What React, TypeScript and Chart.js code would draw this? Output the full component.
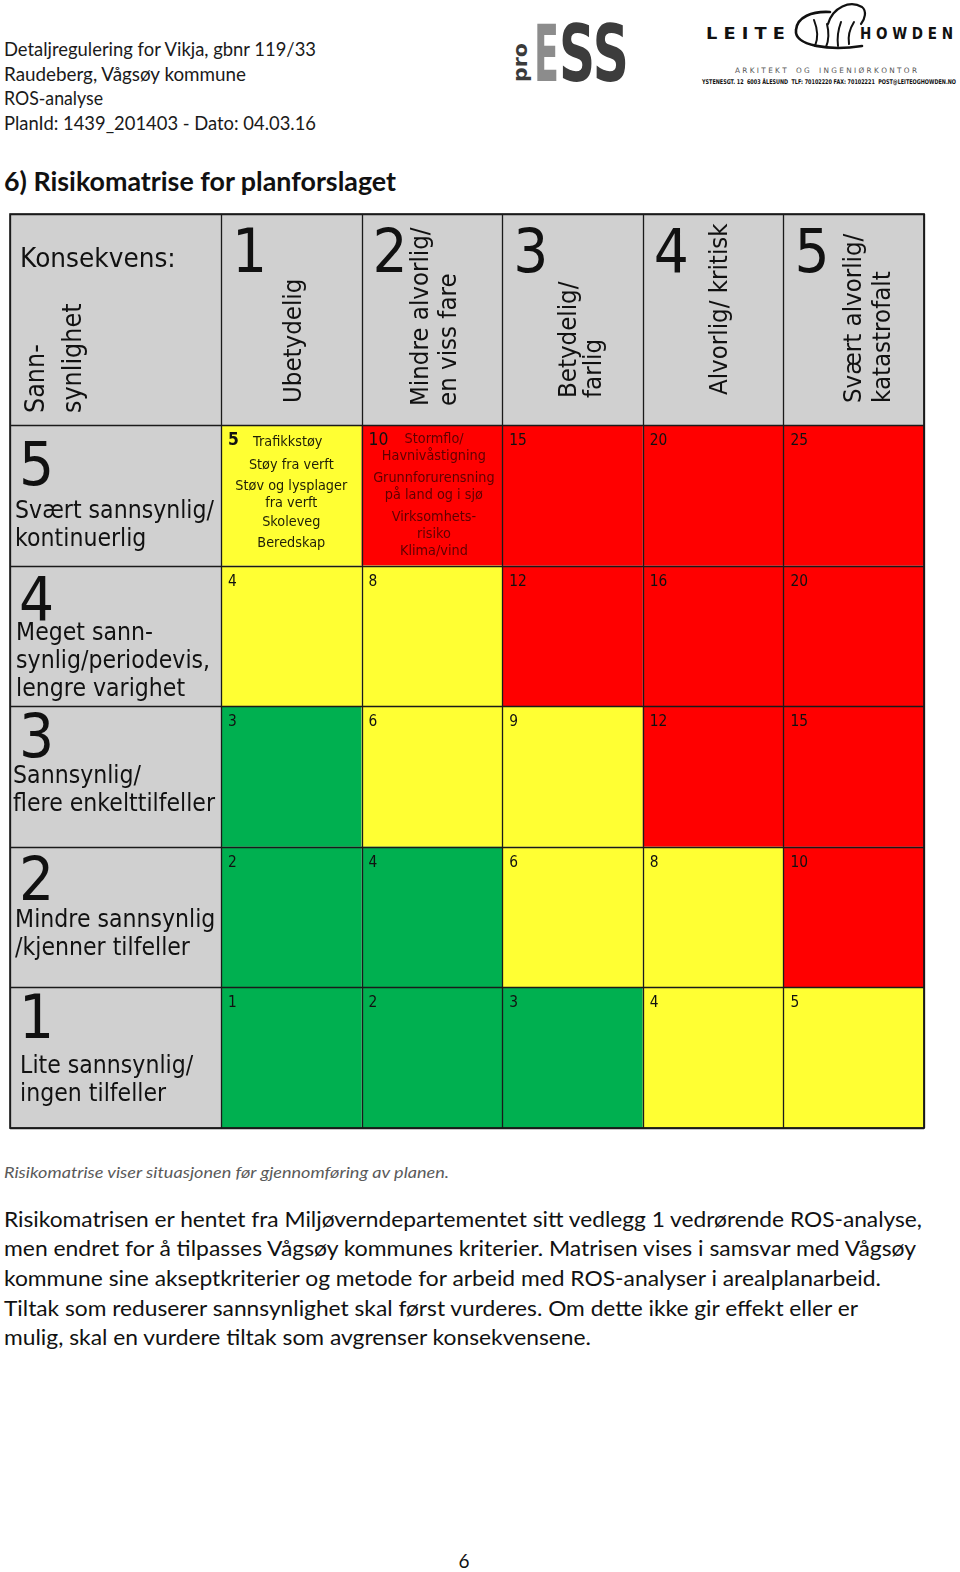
import React, { useEffect, useRef } from "react";
import { Chart, registerables } from "chart.js";

Chart.register(...registerables);

// ---------- data ----------
const consequenceLevels = [1, 2, 3, 4, 5];
const consequenceNames = [
  ["Ubetydelig"],
  ["Mindre alvorlig/", "en viss fare"],
  ["Betydelig/", "farlig"],
  ["Alvorlig/ kritisk"],
  ["Svært alvorlig/", "katastrofalt"],
];
const probabilityLevels = [5, 4, 3, 2, 1];
const probabilityNames = [
  ["Svært sannsynlig/", "kontinuerlig"],
  ["Meget sann-", "synlig/periodevis,", "lengre varighet"],
  ["Sannsynlig/", "flere enkelttilfeller"],
  ["Mindre sannsynlig", "/kjenner tilfeller"],
  ["Lite sannsynlig/", "ingen tilfeller"],
];
// rows follow probabilityLevels (5 -> 1), columns follow consequenceLevels (1 -> 5)
const riskScores = [
  [5, 10, 15, 20, 25],
  [4, 8, 12, 16, 20],
  [3, 6, 9, 12, 15],
  [2, 4, 6, 8, 10],
  [1, 2, 3, 4, 5],
];
const riskClasses = [
  ["mid", "high", "high", "high", "high"],
  ["mid", "mid", "high", "high", "high"],
  ["low", "mid", "mid", "high", "high"],
  ["low", "low", "mid", "mid", "high"],
  ["low", "low", "low", "mid", "mid"],
];
const hazardsScore5 = ["Trafikkstøy", "Støy fra verft", "Støv og lysplager", "fra verft", "Skoleveg", "Beredskap"];
const hazardsScore10 = ["Stormflo/", "Havnivåstigning", "Grunnforurensning", "på land og i sjø", "Virksomhets-", "risiko", "Klima/vind"];
const cornerLabels = ["Konsekvens:", "Sann-", "synlighet"];

const headerLines = [
  "Detaljregulering for Vikja, gbnr 119/33",
  "Raudeberg, Vågsøy kommune",
  "ROS-analyse",
  "PlanId: 1439_201403 -  Dato: 04.03.16",
];
const titleText = "6) Risikomatrise for planforslaget";
const captionText = "Risikomatrise viser situasjonen før gjennomføring av planen.";
const bodyLines = [
  "Risikomatrisen er hentet fra Miljøverndepartementet sitt vedlegg 1 vedrørende ROS-analyse,",
  "men endret for å tilpasses Vågsøy kommunes kriterier. Matrisen vises i samsvar med Vågsøy",
  "kommune sine akseptkriterier og metode for arbeid med ROS-analyser i arealplanarbeid.",
  "Tiltak som reduserer sannsynlighet skal først vurderes. Om dette ikke gir effekt eller er",
  "mulig, skal en vurdere tiltak som avgrenser konsekvensene.",
];
const pageNumber = "6";

// ---------- styles / layout (kept apart from data) ----------
const COLORS: Record<string, string> = { low: "#00B050", mid: "#FFFF33", high: "#FF0000" };
const HEADER_BG = "#D0D0D0";
const LINE = "#1a1a1a";
const FONT = '"DejaVu Sans"';
const SX = 0.92;

function txt(
  ctx: CanvasRenderingContext2D,
  s: string,
  x: number,
  y: number,
  size: number,
  opts: { color?: string; weight?: string; align?: CanvasTextAlign; rotate?: boolean; sx?: number } = {}
) {
  ctx.save();
  ctx.translate(x, y);
  if (opts.rotate) ctx.rotate(-Math.PI / 2);
  ctx.scale(opts.sx ?? SX, 1);
  ctx.font = `${opts.weight || "normal"} ${size}px ${FONT}`;
  ctx.textAlign = opts.align || "left";
  ctx.textBaseline = "alphabetic";
  ctx.fillStyle = opts.color || "#111";
  ctx.fillText(s, 0, 0);
  ctx.restore();
}

const matrixPlugin = {
  id: "riskMatrix",
  beforeDatasetsDraw(chart: any) {
    const ctx: CanvasRenderingContext2D = chart.ctx;
    const xs = chart.scales.x;
    const ys = chart.scales.y;
    const left = xs.getPixelForValue(0.5);
    const right = xs.getPixelForValue(5.5);
    const top = ys.getPixelForValue(5.5);
    const bottom = ys.getPixelForValue(0.5);
    const hx0 = xs.getPixelForValue(-1);
    const hy0 = ys.getPixelForValue(7);

    ctx.save();
    // header backgrounds
    ctx.fillStyle = HEADER_BG;
    ctx.fillRect(hx0, hy0, right - hx0, top - hy0);
    ctx.fillRect(hx0, top, left - hx0, bottom - top);

    // cells from dataset points
    const pts = chart.data.datasets[0].data;
    pts.forEach((pt: any) => {
      const x0 = xs.getPixelForValue(pt.x - 0.5);
      const x1 = xs.getPixelForValue(pt.x + 0.5);
      const y0 = ys.getPixelForValue(pt.y + 0.5);
      const y1 = ys.getPixelForValue(pt.y - 0.5);
      ctx.fillStyle = COLORS[pt.cls];
      ctx.fillRect(x0, y0, x1 - x0, y1 - y0);
    });

    // grid lines
    ctx.strokeStyle = LINE;
    ctx.lineWidth = 1.3;
    ctx.beginPath();
    [-1, 0.5, 1.5, 2.5, 3.5, 4.5, 5.5].forEach((v) => {
      const x = Math.round(xs.getPixelForValue(v)) + 0.5;
      ctx.moveTo(x, hy0);
      ctx.lineTo(x, bottom);
    });
    [7, 5.5, 4.5, 3.5, 2.5, 1.5, 0.5].forEach((v) => {
      const y = Math.round(ys.getPixelForValue(v)) + 0.5;
      ctx.moveTo(hx0, y);
      ctx.lineTo(right, y);
    });
    ctx.stroke();
    ctx.lineWidth = 1.8;
    ctx.strokeRect(hx0, hy0, right - hx0, bottom - hy0);

    // corner
    txt(ctx, cornerLabels[0], hx0 + 10, hy0 + 53, 27);
    txt(ctx, cornerLabels[1], hx0 + 34, top - 12, 26, { rotate: true });
    txt(ctx, cornerLabels[2], hx0 + 71, top - 12, 26, { rotate: true });

    // column headers
    const rotBase = [[80], [66, 94], [74, 99], [84], [78, 107]];
    const rotStart = [22, 19, 27, 30, 22];
    consequenceLevels.forEach((c, i) => {
      const cx0 = xs.getPixelForValue(c - 0.5);
      txt(ctx, String(c), cx0 + 11, hy0 + 58, 60);
      consequenceNames[i].forEach((ln, j) => {
        txt(ctx, ln, cx0 + rotBase[i][j], top - rotStart[i], 25, { rotate: true });
      });
    });

    // row headers
    const numBase = [60, 54, 51, 53, 51];
    const lineBase = [93, 74, 77, 80, 86];
    const lineX = [5, 6, 3, 5, 10];
    probabilityLevels.forEach((p, i) => {
      const ry0 = ys.getPixelForValue(p + 0.5);
      txt(ctx, String(p), hx0 + 9, ry0 + numBase[i], 60);
      probabilityNames[i].forEach((ln, j) => {
        txt(ctx, ln, hx0 + lineX[i], ry0 + lineBase[i] + j * 28, 24);
      });
    });

    // cell scores
    pts.forEach((pt: any) => {
      const x0 = xs.getPixelForValue(pt.x - 0.5);
      const y0 = ys.getPixelForValue(pt.y + 0.5);
      const hasHazards = pt.y === 5 && (pt.x === 1 || pt.x === 2);
      txt(ctx, String(pt.score), x0 + 7, y0 + 20, hasHazards ? 17 : 15, {
        weight: pt.y === 5 && pt.x === 1 ? "bold" : "normal",
      });
    });

    // hazards in the 5 cell (consequence 1, probability 5)
    {
      const x0 = xs.getPixelForValue(0.5);
      const x1 = xs.getPixelForValue(1.5);
      const y0 = ys.getPixelForValue(5.5);
      const cx = (x0 + x1) / 2;
      const col = "#1e1e08";
      txt(ctx, hazardsScore5[0], x0 + 32, y0 + 21, 14, { color: col });
      const offs = [44, 65, 82, 101, 122];
      hazardsScore5.slice(1).forEach((h, j) => txt(ctx, h, cx, y0 + offs[j], 14, { color: col, align: "center" }));
    }
    // hazards in the 10 cell (consequence 2, probability 5)
    {
      const x0 = xs.getPixelForValue(1.5);
      const x1 = xs.getPixelForValue(2.5);
      const y0 = ys.getPixelForValue(5.5);
      const cx = (x0 + x1) / 2;
      const col = "#5e0000";
      txt(ctx, hazardsScore10[0], x0 + 43, y0 + 18, 14, { color: col });
      const offs = [35, 57, 74, 96, 113, 130];
      hazardsScore10.slice(1).forEach((h, j) => txt(ctx, h, cx + 2, y0 + offs[j], 14, { color: col, align: "center" }));
    }
    ctx.restore();
  },
};

function RiskMatrix() {
  const ref = useRef<HTMLCanvasElement | null>(null);
  useEffect(() => {
    if (!ref.current) return;
    const points: any[] = [];
    probabilityLevels.forEach((p, r) => {
      consequenceLevels.forEach((c, k) => {
        points.push({ x: c, y: p, score: riskScores[r][k], cls: riskClasses[r][k] });
      });
    });
    const chart = new Chart(ref.current, {
      type: "scatter",
      data: { datasets: [{ data: points, pointRadius: 0, pointHoverRadius: 0 }] },
      options: {
        animation: false,
        responsive: false,
        events: [],
        layout: { padding: { left: 221, right: 36, top: 225, bottom: 12 } },
        plugins: { legend: { display: false }, tooltip: { enabled: false } },
        scales: {
          x: { type: "linear", min: 0.5, max: 5.5, display: false },
          y: { type: "linear", min: 0.5, max: 5.5, display: false },
        },
      },
      plugins: [matrixPlugin],
    } as any);
    return () => chart.destroy();
  }, []);
  return (
    <canvas
      ref={ref}
      width={960}
      height={940}
      style={{ position: "absolute", left: 0, top: 200, width: 960, height: 940 }}
    />
  );
}

export default function App() {
  const bodyLen = [918, 912, 877, 854, 587];
  const bodyY = [1227, 1256, 1286, 1316, 1345];
  const headLen = [312, 242, 99, 312];
  const headY = [56, 81, 105, 130];
  return (
    <div style={{ position: "absolute", left: 0, top: 0, width: 960, height: 1572, background: "#fff", overflow: "hidden" }}>
      <svg width={960} height={1572} style={{ position: "absolute", left: 0, top: 0, whiteSpace: "pre" }}>
        <g fontFamily="Lato" fill="#1a1a1a" style={{ whiteSpace: "pre" }}>
          {headerLines.map((t, i) => (
            <text key={i} x={4} y={headY[i]} fontSize={19.5} textLength={headLen[i]} lengthAdjust="spacingAndGlyphs">
              {t}
            </text>
          ))}
          <text x={4} y={191} fontSize={27} fontWeight="bold" fill="#111" textLength={392} lengthAdjust="spacingAndGlyphs">
            {titleText}
          </text>
          <text x={4} y={1178} fontSize={15.5} fontStyle="italic" fill="#5a5a5a" textLength={445} lengthAdjust="spacingAndGlyphs">
            {captionText}
          </text>
          {bodyLines.map((t, i) => (
            <text key={i} x={4} y={bodyY[i]} fontSize={21} fill="#111" textLength={bodyLen[i]} lengthAdjust="spacingAndGlyphs">
              {t}
            </text>
          ))}
          <text x={464} y={1568} fontSize={19} textAnchor="middle" fill="#111">
            {pageNumber}
          </text>
        </g>
        {/* proESS logo */}
        <g fontFamily='"DejaVu Sans"' fontWeight="bold">
          <text transform="translate(527,82) rotate(-90)" fontSize={20} fill="#3a3a3a" textLength={39} lengthAdjust="spacingAndGlyphs">
            pro
          </text>
          <text x={534} y={81} fontSize={78} fill="#8c8c8c" textLength={25} lengthAdjust="spacingAndGlyphs">
            E
          </text>
          <text x={559} y={81} fontSize={78} fill="#3c3c3c" textLength={70} lengthAdjust="spacingAndGlyphs">
            SS
          </text>
        </g>
        {/* Leite Howden logo */}
        <g fontFamily='"DejaVu Sans"' fill="#111" style={{ whiteSpace: "pre" }}>
          <text x={706} y={39} fontSize={15} fontWeight="bold" textLength={79} lengthAdjust="spacingAndGlyphs">
            {"L E I T E"}
          </text>
          <text x={860} y={39} fontSize={15} fontWeight="bold" textLength={93} lengthAdjust="spacingAndGlyphs">
            {"H O W D E N"}
          </text>
          <text x={735} y={73} fontSize={7.5} fill="#555" textLength={182} lengthAdjust="spacingAndGlyphs" style={{ whiteSpace: "pre" }}>
            {"A R K I T E K T    O G    I N G E N I Ø R K O N T O R"}
          </text>
          <text x={702} y={84} fontSize={6.5} fontWeight="bold" textLength={254} lengthAdjust="spacingAndGlyphs" style={{ whiteSpace: "pre" }}>
            {"YSTENESGT. 12  6003 ÅLESUND  TLF: 70102220 FAX: 70102221  POST@LEITEOGHOWDEN.NO"}
          </text>
          <g fill="none" stroke="#111" strokeLinecap="round">
            <path d="M 862 46 C 830 51, 794 46, 796 30 C 797 17, 812 11, 830 12" strokeWidth={2.6} />
            <path d="M 828 24 C 833 7, 850 0, 862 7 C 867 11, 865 19, 861 24" strokeWidth={2.2} />
            <path d="M 814 20 C 818 30, 818 39, 815 46" strokeWidth={2} />
            <path d="M 827 24 C 829 32, 829 40, 826 47" strokeWidth={2} />
            <path d="M 841 22 C 838 30, 837 38, 838 46" strokeWidth={2} />
            <path d="M 854 22 C 849 30, 848 38, 849 44" strokeWidth={2} />
          </g>
        </g>
      </svg>
      <RiskMatrix />
    </div>
  );
}
